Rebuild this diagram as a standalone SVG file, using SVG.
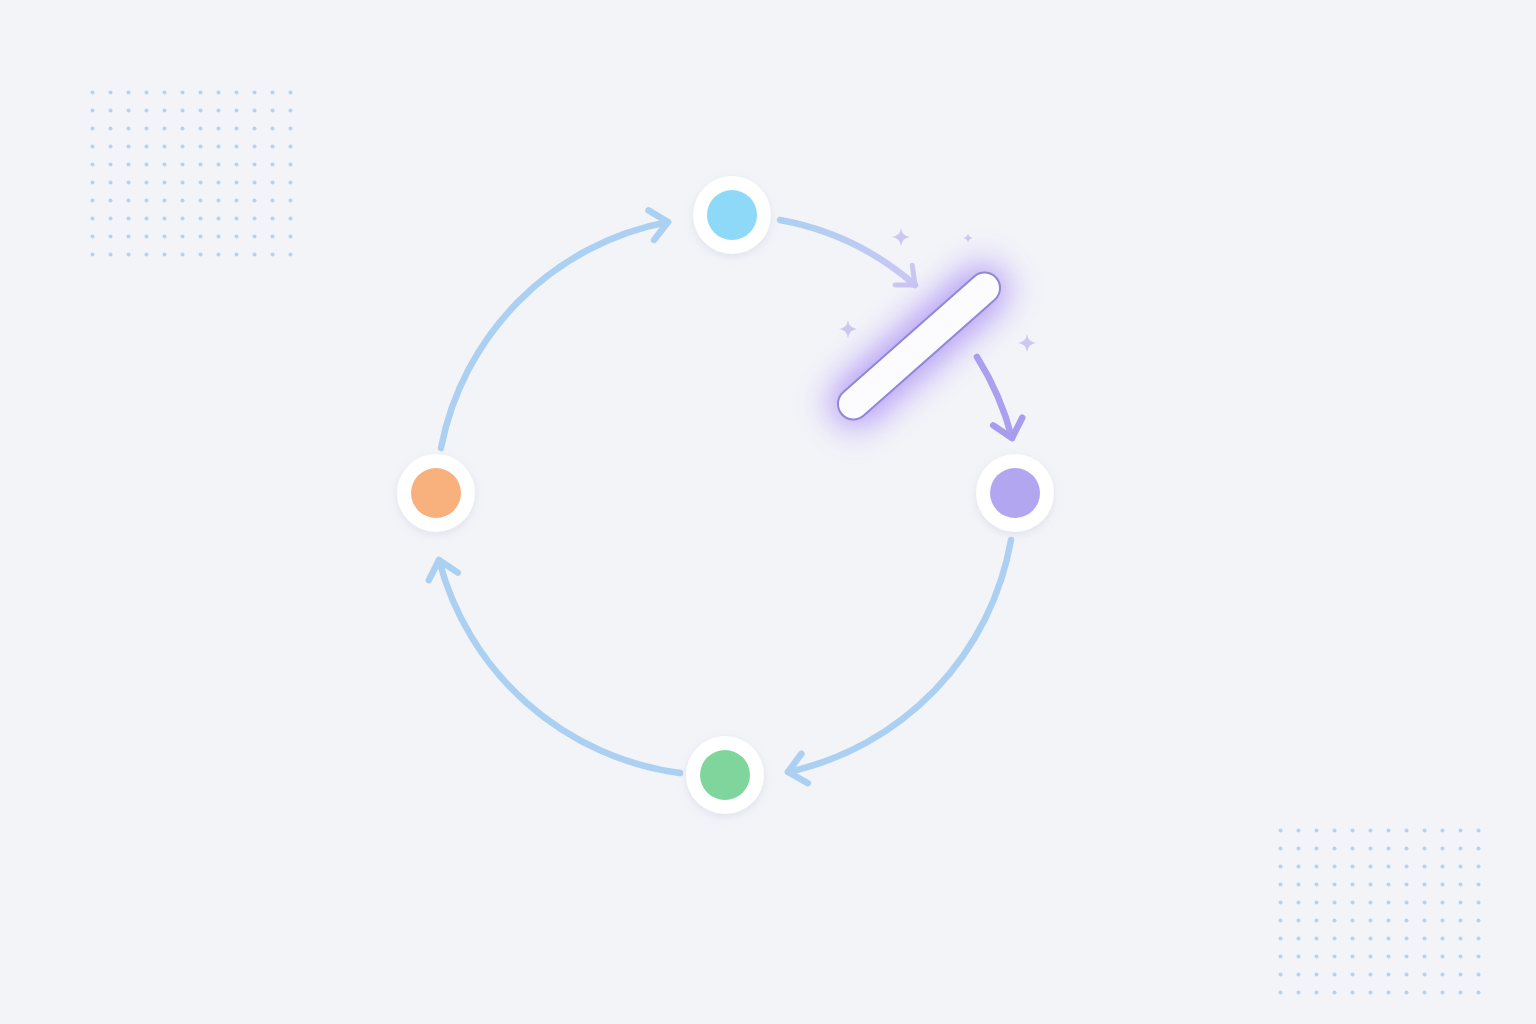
<svg xmlns="http://www.w3.org/2000/svg" width="1536" height="1024" viewBox="0 0 1536 1024">
<defs>
<style>
.arc{fill:none;stroke-width:6.5;stroke-linecap:round}
.ring{fill:#ffffff;filter:url(#sh)}
.spark{fill:#cdc8f2}
</style>
<filter id="sh" x="-50%" y="-50%" width="200%" height="200%">
<feDropShadow dx="0" dy="3" stdDeviation="4" flood-color="#8090b0" flood-opacity="0.18"/>
</filter>
<filter id="glow" x="-80%" y="-80%" width="260%" height="260%">
<feGaussianBlur stdDeviation="17"/>
</filter>
<marker id="ah" markerUnits="userSpaceOnUse" markerWidth="50" markerHeight="50" refX="25" refY="25" orient="auto" viewBox="0 0 50 50">
<path d="M8 10 L25 25 L8 40" fill="none" stroke="#acd0f1" stroke-width="6.5" stroke-linecap="round" stroke-linejoin="round"/>
</marker>
<marker id="ahp" markerUnits="userSpaceOnUse" markerWidth="50" markerHeight="50" refX="25" refY="25" orient="auto" viewBox="0 0 50 50">
<path d="M8 10 L25 25 L8 40" fill="none" stroke="#a99cef" stroke-width="6.5" stroke-linecap="round" stroke-linejoin="round"/>
</marker>
<marker id="ahf" markerUnits="userSpaceOnUse" markerWidth="50" markerHeight="50" refX="25" refY="25" orient="auto" viewBox="0 0 50 50">
<path d="M10 12 L25 25 L10 38" fill="none" stroke="#cbc7f3" stroke-width="5" stroke-linecap="round" stroke-linejoin="round"/>
</marker>
<linearGradient id="fade" gradientUnits="userSpaceOnUse" x1="780" y1="220" x2="915" y2="285">
<stop offset="0" stop-color="#acd0f1"/>
<stop offset="1" stop-color="#cbc7f3"/>
</linearGradient>
<pattern id="grid" patternUnits="userSpaceOnUse" width="18" height="18">
<circle cx="2.5" cy="2.5" r="2" fill="#b8d2ea"/>
</pattern>
</defs>
<rect width="1536" height="1024" fill="#f3f4f8"/>

<g id="dots-topleft">
<rect x="89" y="89" width="216" height="180" fill="url(#grid)"/>
</g>
<g id="dots-bottomright">
<rect x="1275" y="823" width="216" height="180" fill="url(#grid)"/>
</g>

<g id="connectors">
<path class="arc" style="stroke:#acd0f1" d="M441 448 A285 285 0 0 1 668 222" marker-end="url(#ah)"/>
<path class="arc" style="stroke:url(#fade)" d="M780 220 A282 282 0 0 1 915 285" marker-end="url(#ahf)"/>
<path class="arc" style="stroke:#ab9ff0" d="M977 357 A290 290 0 0 1 1012 438" marker-end="url(#ahp)"/>
<path class="arc" style="stroke:#acd0f1" d="M1011 540 A288 288 0 0 1 788 772" marker-end="url(#ah)"/>
<path class="arc" style="stroke:#acd0f1" d="M680 773 A288 288 0 0 1 439 560" marker-end="url(#ah)"/>
</g>

<g id="sparkles">
<path class="spark" d="M901 228 Q902 236 910 237 Q902 238 901 246 Q900 238 892 237 Q900 236 901 228Z"/>
<path class="spark" d="M968 233 Q968.5 237.5 973 238 Q968.5 238.5 968 243 Q967.5 238.5 963 238 Q967.5 237.5 968 233Z"/>
<path class="spark" d="M848 320 Q849 328 857 329 Q849 330 848 338 Q847 330 839 329 Q847 328 848 320Z"/>
<path class="spark" d="M1027 334 Q1028 342 1036 343 Q1028 344 1027 352 Q1026 344 1018 343 Q1026 342 1027 334Z"/>
</g>

<g id="pill" transform="translate(919 346) rotate(-41.5)">
<rect x="-110" y="-24" width="220" height="48" rx="24" fill="#9a78f6" opacity="0.75" filter="url(#glow)"/>
<rect x="-103" y="-15.5" width="206" height="31" rx="15.5" fill="#fcfcff" stroke="#9088d6" stroke-width="2"/>
</g>

<g id="node-top">
<circle class="ring" cx="732" cy="215" r="39"/>
<circle cx="732" cy="215" r="25" fill="#8ed8f8"/>
</g>
<g id="node-right">
<circle class="ring" cx="1015" cy="493" r="39"/>
<circle cx="1015" cy="493" r="25" fill="#b2a6f0"/>
</g>
<g id="node-bottom">
<circle class="ring" cx="725" cy="775" r="39"/>
<circle cx="725" cy="775" r="25" fill="#7fd59b"/>
</g>
<g id="node-left">
<circle class="ring" cx="436" cy="493" r="39"/>
<circle cx="436" cy="493" r="25" fill="#f8b07c"/>
</g>
</svg>
